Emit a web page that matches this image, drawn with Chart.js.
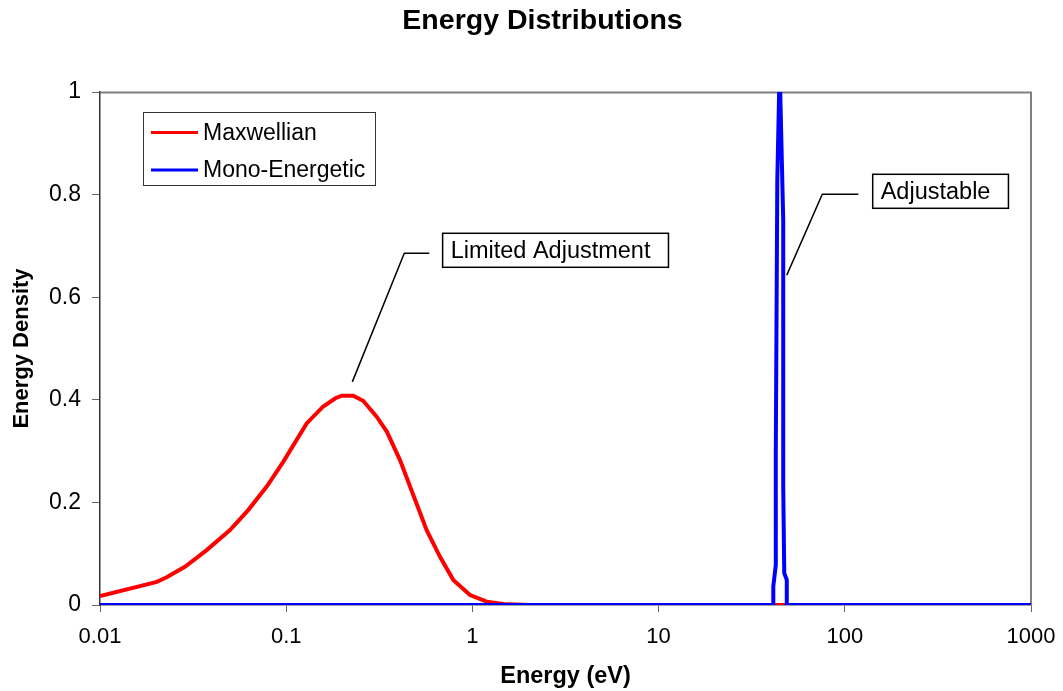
<!DOCTYPE html>
<html>
<head>
<meta charset="utf-8">
<script src="https://cdn.jsdelivr.net/npm/chart.js@4.4.0/dist/chart.umd.min.js"></script>
<style>
  html, body { margin: 0; padding: 0; background: #fff; }
  #wrap { width: 1063px; height: 691px; }
</style>
</head>
<body>
<div id="wrap"><canvas id="c" width="1063" height="691"></canvas></div>
<script>
// ---- data ----
const chartTitle = "Energy Distributions";
const xAxisTitle = "Energy (eV)";
const yAxisTitle = "Energy Density";
const xTickValues = [0.01, 0.1, 1, 10, 100, 1000];
const xTickLabels = ["0.01", "0.1", "1", "10", "100", "1000"];
const yTickValues = [0, 0.2, 0.4, 0.6, 0.8, 1];
const yTickLabels = ["0", "0.2", "0.4", "0.6", "0.8", "1"];

const maxwellianLabel = "Maxwellian";
const maxwellianEnergy = [0.01, 0.0202, 0.0228, 0.0287, 0.0374, 0.0499, 0.0625, 0.0786, 0.0964, 0.1288, 0.158, 0.1837, 0.1986, 0.229, 0.259, 0.306, 0.347, 0.408, 0.482, 0.568, 0.670, 0.789, 0.971, 1.194, 1.466, 2.0, 1000];
const maxwellianDensity = [0.0175, 0.045, 0.054, 0.075, 0.107, 0.146, 0.185, 0.231, 0.279, 0.354, 0.387, 0.403, 0.408, 0.408, 0.398, 0.367, 0.338, 0.283, 0.214, 0.146, 0.094, 0.049, 0.0195, 0.0065, 0.002, 0, 0];

const monoLabel = "Mono-Energetic";
const monoEnergy = [0.01, 41.2, 41.3, 42.6, 42.6, 43.4, 44.4, 45.0, 46.7, 46.7, 47.3, 48.8, 48.8, 1000];
const monoDensity = [0, 0, 0.036, 0.078, 0.296, 0.828, 1.0, 1.0, 0.75, 0.23, 0.062, 0.049, 0, 0];

// annotations: text, anchor point, elbow point, line end, box left (data coords)
const annoTexts = ["Limited Adjustment", "Adjustable"];
const annoAnchorX = [0.2265, 48.8];
const annoAnchorY = [0.435, 0.643];
const annoElbowX = [0.4307, 75.7];
const annoElbowY = [0.6856, 0.8006];
const annoEndX = [0.587, 118.3];
const annoBoxX = [0.692, 141.2];

const RED = "#ff0000";
const BLUE = "#0000ff";
const FONT = "'Liberation Sans', Arial, Helvetica, sans-serif";

function pts(xs, ys) { return xs.map((x, i) => ({ x: x, y: ys[i] })); }

const overlay = {
  id: 'overlay',
  beforeDatasetsDraw(chart) {
    const { ctx, chartArea: a } = chart;
    ctx.save();
    ctx.strokeStyle = '#808080';
    ctx.lineWidth = 2;
    ctx.beginPath();
    ctx.moveTo(a.left, a.top + 0.5);
    ctx.lineTo(a.right, a.top + 0.5);
    ctx.lineTo(a.right, a.bottom);
    ctx.stroke();
    ctx.restore();
  },
  afterDraw(chart) {
    const { ctx, chartArea: a, scales } = chart;
    const xs = scales.x, ys = scales.y;
    ctx.save();
    // title
    ctx.fillStyle = '#000';
    ctx.font = "bold 28.5px " + FONT;
    ctx.textAlign = 'center';
    ctx.textBaseline = 'middle';
    ctx.fillText(chartTitle, 542.5, 21);

    // legend
    const lx = a.left + 43, ly = a.top + 20, lw = 232, lh = 73;
    ctx.fillStyle = '#fff';
    ctx.fillRect(lx, ly, lw, lh);
    ctx.strokeStyle = '#333';
    ctx.lineWidth = 1;
    ctx.strokeRect(lx + 0.5, ly + 0.5, lw, lh);
    const ds = chart.data.datasets;
    ds.forEach((d, i) => {
      const yy = ly + 20.5 + i * 37.5;
      ctx.strokeStyle = d.borderColor;
      ctx.lineWidth = 3;
      ctx.beginPath();
      ctx.moveTo(lx + 8, yy);
      ctx.lineTo(lx + 55, yy);
      ctx.stroke();
      ctx.fillStyle = '#000';
      ctx.font = "23px " + FONT;
      ctx.textAlign = 'left';
      ctx.textBaseline = 'middle';
      ctx.fillText(d.label, lx + 60, yy + 1);
    });

    // annotations
    annoTexts.forEach((t, i) => {
      const ax = xs.getPixelForValue(annoAnchorX[i]), ay = ys.getPixelForValue(annoAnchorY[i]);
      const ex = xs.getPixelForValue(annoElbowX[i]), ey = ys.getPixelForValue(annoElbowY[i]);
      const fx = xs.getPixelForValue(annoEndX[i]);
      ctx.strokeStyle = '#000';
      ctx.lineWidth = 1.5;
      ctx.beginPath();
      ctx.moveTo(ax, ay);
      ctx.lineTo(ex, ey);
      ctx.lineTo(fx, ey);
      ctx.stroke();
      ctx.font = "23.5px " + FONT;
      const tw = ctx.measureText(t).width;
      const bx = xs.getPixelForValue(annoBoxX[i]);
      const bw = tw + 26, bh = 34;
      const by = ey - bh / 2 - 3;
      ctx.fillStyle = '#fff';
      ctx.fillRect(bx, by, bw, bh);
      ctx.lineWidth = 1.5;
      ctx.strokeRect(bx, by, bw, bh);
      ctx.fillStyle = '#000';
      ctx.textAlign = 'left';
      ctx.textBaseline = 'middle';
      ctx.fillText(t, bx + 8, by + bh / 2 + 1);
    });
    ctx.restore();
  }
};

new Chart(document.getElementById('c'), {
  type: 'scatter',
  data: {
    datasets: [
      {
        label: maxwellianLabel,
        data: pts(maxwellianEnergy, maxwellianDensity),
        borderColor: RED, backgroundColor: RED,
        showLine: true, pointRadius: 0, borderWidth: 4, tension: 0,
        order: 1
      },
      {
        label: monoLabel,
        data: pts(monoEnergy, monoDensity),
        borderColor: BLUE, backgroundColor: BLUE,
        showLine: true, pointRadius: 0, borderWidth: 4, tension: 0,
        order: 0
      }
    ]
  },
  options: {
    responsive: false,
    animation: false,
    events: [],
    layout: { padding: { top: 92, right: 32, left: 0, bottom: 0 } },
    plugins: { legend: { display: false }, title: { display: false }, tooltip: { enabled: false } },
    scales: {
      x: {
        type: 'logarithmic',
        min: 0.01, max: 1000,
        afterBuildTicks(s) { s.ticks = xTickValues.map(v => ({ value: v })); },
        afterFit(s) { s.height = 86; s.paddingLeft = 0; s.paddingRight = 0; },
        ticks: {
          autoSkip: false, maxRotation: 0,
          color: '#000', font: { family: FONT, size: 22 }, padding: 12,
          callback: (v) => { const i = xTickValues.indexOf(v); return i >= 0 ? xTickLabels[i] : ''; }
        },
        grid: { drawOnChartArea: false, drawTicks: true, tickLength: 7, color: '#666' },
        border: { display: true, color: '#444', width: 1.5 },
        title: { display: true, text: xAxisTitle, color: '#000', font: { family: FONT, size: 23.5, weight: 'bold' }, padding: { top: 0, bottom: 0 } }
      },
      y: {
        min: 0, max: 1,
        afterBuildTicks(s) { s.ticks = yTickValues.map(v => ({ value: v })); },
        afterFit(s) { s.width = 100; s.paddingTop = 0; s.paddingBottom = 0; },
        ticks: {
          color: '#000', font: { family: FONT, size: 23 }, padding: 11,
          callback: (v) => { const i = yTickValues.indexOf(v); return i >= 0 ? yTickLabels[i] : ''; }
        },
        grid: { drawOnChartArea: false, drawTicks: true, tickLength: 8, color: '#666' },
        border: { display: true, color: '#333', width: 1.5 },
        title: { display: true, text: yAxisTitle, color: '#000', font: { family: FONT, size: 22, weight: 'bold' }, padding: { top: 9, bottom: 0 } }
      }
    }
  },
  plugins: [overlay]
});
</script>
</body>
</html>
